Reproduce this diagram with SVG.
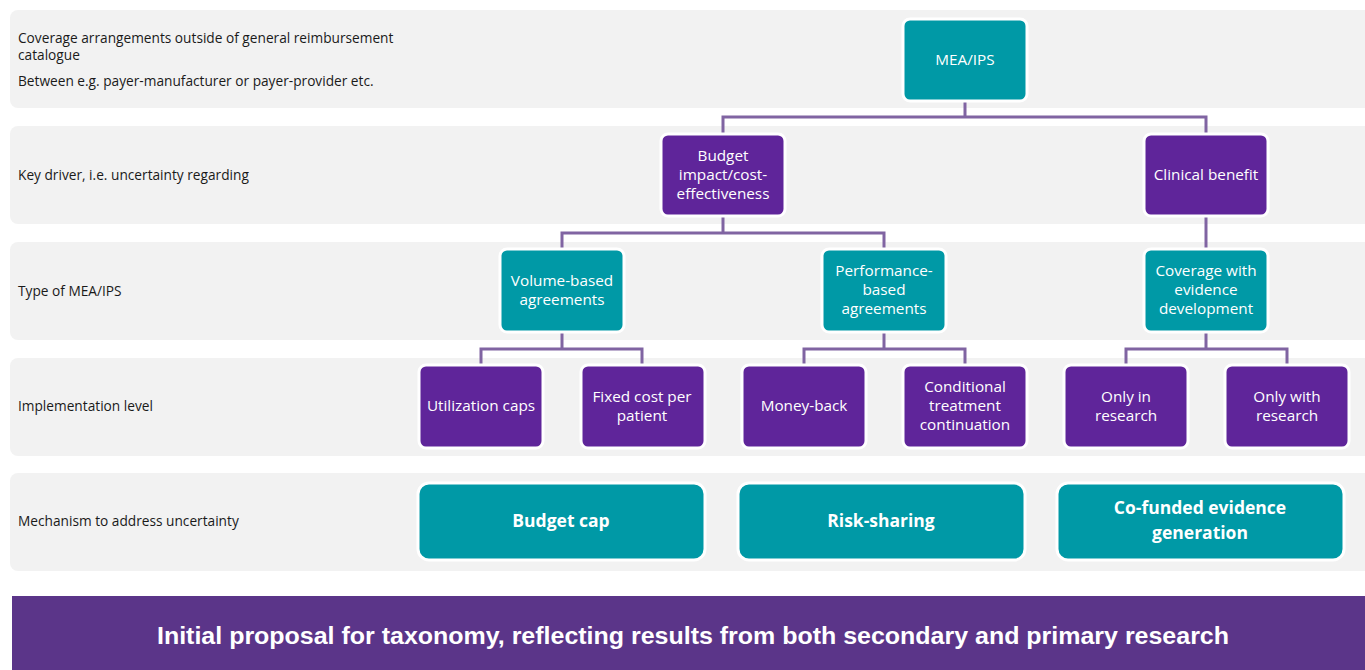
<svg xmlns="http://www.w3.org/2000/svg" width="1365" height="670" viewBox="0 0 1365 670">
<style>
.band{fill:#f2f2f2}
.lbl{font-family:"Open Sans","Liberation Sans",sans-serif;font-size:13.7px;fill:#1a1a1a}
.teal{fill:#0099a6;stroke:#ffffff;stroke-width:3}
.purp{fill:#5f259a;stroke:#ffffff;stroke-width:3}
.nt{font-family:"Open Sans","Liberation Sans",sans-serif;font-size:15.3px;fill:#ffffff;text-anchor:middle}
.bt{font-family:"Open Sans","Liberation Sans",sans-serif;font-size:17.5px;font-weight:bold;fill:#ffffff;text-anchor:middle}
.conn{fill:none;stroke:#8064a2;stroke-width:3}
.foot{font-family:"Liberation Sans",Arial,sans-serif;font-size:23px;font-weight:bold;fill:#ffffff;text-anchor:middle}
</style>
<g id="bands">
<rect class="band" x="10" y="10" width="1370" height="98" rx="8"/>
<rect class="band" x="10" y="126" width="1370" height="98" rx="8"/>
<rect class="band" x="10" y="242" width="1370" height="98" rx="8"/>
<rect class="band" x="10" y="358" width="1370" height="98" rx="8"/>
<rect class="band" x="10" y="473" width="1370" height="98" rx="8"/>
</g>
<g id="row-labels">
<text class="lbl" x="18" y="43">Coverage arrangements outside of general reimbursement</text>
<text class="lbl" x="18" y="60">catalogue</text>
<text class="lbl" x="18" y="86">Between e.g. payer-manufacturer or payer-provider etc.</text>
<text class="lbl" x="18" y="180">Key driver, i.e. uncertainty regarding</text>
<text class="lbl" x="18" y="296">Type of MEA/IPS</text>
<text class="lbl" x="18" y="411">Implementation level</text>
<text class="lbl" x="18" y="526">Mechanism to address uncertainty</text>
</g>
<g id="connectors">
<path class="conn" d="M965 100 V117 M723 135 V117 H1206 V135"/>
<path class="conn" d="M723 216 V233 M562 250 V233 H884 V250"/>
<path class="conn" d="M1206 216 V250"/>
<path class="conn" d="M562 332 V349 M481 366 V349 H642 V366"/>
<path class="conn" d="M884 332 V349 M804 366 V349 H965 V366"/>
<path class="conn" d="M1206 332 V349 M1126 366 V349 H1287 V366"/>
</g>
<g id="node-mea">
<rect class="teal" x="903" y="19" width="124" height="82" rx="7"/>
<text class="nt" x="965" y="65">MEA/IPS</text>
</g>
<g id="node-budget-impact">
<rect class="purp" x="661" y="134" width="124" height="82" rx="7"/>
<text class="nt" x="723" y="161">Budget</text>
<text class="nt" x="723" y="180">impact/cost-</text>
<text class="nt" x="723" y="199">effectiveness</text>
</g>
<g id="node-clinical">
<rect class="purp" x="1144" y="134" width="124" height="82" rx="7"/>
<text class="nt" x="1206" y="180">Clinical benefit</text>
</g>
<g id="node-volume">
<rect class="teal" x="500" y="249" width="124" height="83" rx="7"/>
<text class="nt" x="562" y="286">Volume-based</text>
<text class="nt" x="562" y="305">agreements</text>
</g>
<g id="node-performance">
<rect class="teal" x="822" y="249" width="124" height="83" rx="7"/>
<text class="nt" x="884" y="276">Performance-</text>
<text class="nt" x="884" y="295">based</text>
<text class="nt" x="884" y="314">agreements</text>
</g>
<g id="node-ced">
<rect class="teal" x="1144" y="249" width="124" height="83" rx="7"/>
<text class="nt" x="1206" y="276">Coverage with</text>
<text class="nt" x="1206" y="295">evidence</text>
<text class="nt" x="1206" y="314">development</text>
</g>
<g id="node-utilization">
<rect class="purp" x="419" y="365" width="124" height="83" rx="7"/>
<text class="nt" x="481" y="411">Utilization caps</text>
</g>
<g id="node-fixed-cost">
<rect class="purp" x="581" y="365" width="124" height="83" rx="7"/>
<text class="nt" x="642" y="402">Fixed cost per</text>
<text class="nt" x="642" y="421">patient</text>
</g>
<g id="node-money-back">
<rect class="purp" x="742" y="365" width="124" height="83" rx="7"/>
<text class="nt" x="804" y="411">Money-back</text>
</g>
<g id="node-conditional">
<rect class="purp" x="903" y="365" width="124" height="83" rx="7"/>
<text class="nt" x="965" y="392">Conditional</text>
<text class="nt" x="965" y="411">treatment</text>
<text class="nt" x="965" y="430">continuation</text>
</g>
<g id="node-only-in">
<rect class="purp" x="1064" y="365" width="124" height="83" rx="7"/>
<text class="nt" x="1126" y="402">Only in</text>
<text class="nt" x="1126" y="421">research</text>
</g>
<g id="node-only-with">
<rect class="purp" x="1225" y="365" width="124" height="83" rx="7"/>
<text class="nt" x="1287" y="402">Only with</text>
<text class="nt" x="1287" y="421">research</text>
</g>
<g id="node-budget-cap">
<rect class="teal" x="418" y="483" width="287" height="77" rx="11"/>
<text class="bt" x="561" y="527">Budget cap</text>
</g>
<g id="node-risk-sharing">
<rect class="teal" x="738" y="483" width="287" height="77" rx="11"/>
<text class="bt" x="881" y="527">Risk-sharing</text>
</g>
<g id="node-cofunded">
<rect class="teal" x="1057" y="483" width="287" height="77" rx="11"/>
<text class="bt" x="1200" y="514">Co-funded evidence</text>
<text class="bt" x="1200" y="539">generation</text>
</g>
<g id="footer">
<rect x="12" y="596" width="1360" height="80" fill="#5b3589"/>
<text class="foot" x="693" y="644" textLength="1072" lengthAdjust="spacingAndGlyphs">Initial proposal for taxonomy, reflecting results from both secondary and primary research</text>
</g>
</svg>
